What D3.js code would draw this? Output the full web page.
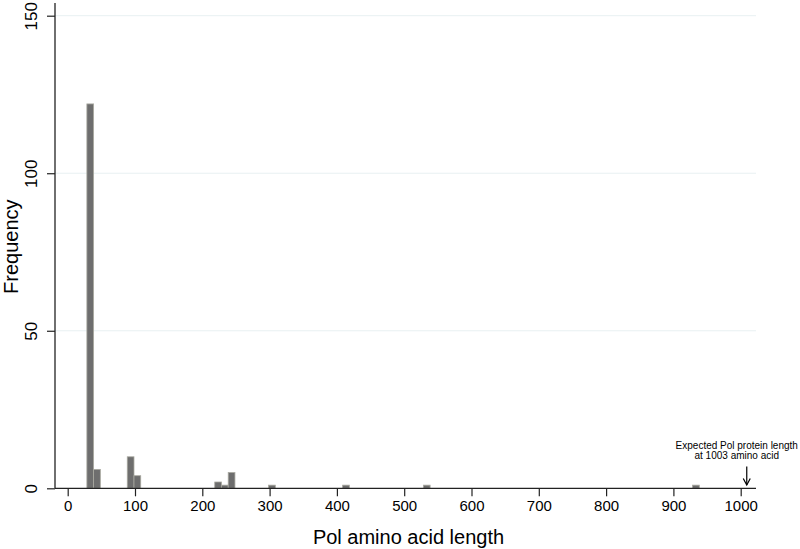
<!DOCTYPE html>
<html>
<head>
<meta charset="utf-8">
<script src="https://cdn.jsdelivr.net/npm/d3@7"></script>
<style>
  html, body { margin: 0; padding: 0; background: #fff; }
  svg { display: block; }
  text { font-family: "Liberation Sans", Arial, sans-serif; fill: #000; }
</style>
</head>
<body>
<svg id="chart" width="800" height="549"></svg>
<script>
// Histogram bins (start of each bin, width 10 amino acids)
const binStarts = [28.5, 38.5, 88.5, 98.5, 218.5, 228.5, 238.5, 298.5, 408.5, 528.5, 928.5];
const binCounts = [122, 6, 10, 4, 2, 1, 5, 1, 1, 1, 1];
const binWidth = 10;
const xTicks = [0, 100, 200, 300, 400, 500, 600, 700, 800, 900, 1000];
const yTicks = [0, 50, 100, 150];
const gridValues = [50, 100, 150];
const arrowValue = 1009;
const annotationLines = ["Expected Pol protein length", "at 1003 amino acid"];
const xTitle = "Pol amino acid length";
const yTitle = "Frequency";

const svg = d3.select("#chart");
const x = d3.scaleLinear().domain([0, 1000]).range([67.7, 740.7]);
const y = d3.scaleLinear().domain([0, 150]).range([488.3, 15.7]);
const plotLeft = 55, plotRight = 756;

// grid
svg.append("g").selectAll("line").data(gridValues).join("line")
  .attr("x1", plotLeft).attr("x2", plotRight)
  .attr("y1", d => y(d)).attr("y2", d => y(d))
  .attr("stroke", "#e8f0f2").attr("stroke-width", 1);

// bars
svg.append("g").selectAll("rect").data(binStarts.map((s, i) => ({s, c: binCounts[i]}))).join("rect")
  .attr("x", d => x(d.s))
  .attr("width", d => x(d.s + binWidth) - x(d.s))
  .attr("y", d => y(d.c))
  .attr("height", d => y(0) - y(d.c))
  .attr("fill", "#6e6e6e")
  .attr("stroke", "#a9a9a0")
  .attr("stroke-width", 0.8);

// x axis
const xAxis = svg.append("g").attr("transform", `translate(0,${y(0)})`)
  .call(d3.axisBottom(x).tickValues(xTicks).tickSize(8).tickPadding(4).tickFormat(d3.format("d")));
xAxis.select(".domain").remove();
xAxis.selectAll(".tick line").attr("stroke", "#222").attr("stroke-width", 1.2);
xAxis.selectAll(".tick text").style("font-size", "15px").style("font-family", "Liberation Sans, Arial, sans-serif").attr("fill", "#000");
svg.append("line").attr("x1", plotLeft).attr("x2", plotRight).attr("y1", y(0)).attr("y2", y(0))
  .attr("stroke", "#222").attr("stroke-width", 1.3);

// y axis
const yAxis = svg.append("g").attr("transform", `translate(${plotLeft},0)`)
  .call(d3.axisLeft(y).tickValues(yTicks).tickSize(8).tickFormat(d3.format("d")));
yAxis.select(".domain").remove();
yAxis.selectAll(".tick line").attr("stroke", "#222").attr("stroke-width", 1.2);
yAxis.selectAll(".tick text")
  .attr("x", null).attr("dy", null)
  .attr("transform", "translate(-18,0) rotate(-90)")
  .attr("text-anchor", "middle")
  .attr("y", 0)
  .style("font-size", "17px").style("font-family", "Liberation Sans, Arial, sans-serif").attr("fill", "#000");
svg.append("line").attr("x1", plotLeft).attr("x2", plotLeft).attr("y1", y(0)).attr("y2", y(154))
  .attr("stroke", "#222").attr("stroke-width", 1.3);

// titles
svg.append("text").attr("x", (plotLeft + plotRight) / 2 + 3).attr("y", 544)
  .attr("text-anchor", "middle").style("font-size", "20px").text(xTitle);
svg.append("text").attr("transform", `translate(18,${246.7}) rotate(-90)`)
  .attr("text-anchor", "middle").style("font-size", "20px").text(yTitle);

// annotation
const ax = x(arrowValue);
svg.append("text").attr("x", ax - 10).attr("y", 449)
  .attr("text-anchor", "middle").style("font-size", "10px")
  .selectAll("tspan").data(annotationLines).join("tspan")
  .attr("x", ax - 10).attr("dy", (d, i) => i === 0 ? 0 : 9.5).text(d => d);
svg.append("line").attr("x1", ax).attr("x2", ax).attr("y1", 466.5).attr("y2", 485)
  .attr("stroke", "#000").attr("stroke-width", 1.2);
svg.append("path").attr("d", `M${ax - 3.5},${478.5} L${ax},${485} L${ax + 3.5},${478.5}`)
  .attr("fill", "none").attr("stroke", "#000").attr("stroke-width", 1.2);
</script>
</body>
</html>
